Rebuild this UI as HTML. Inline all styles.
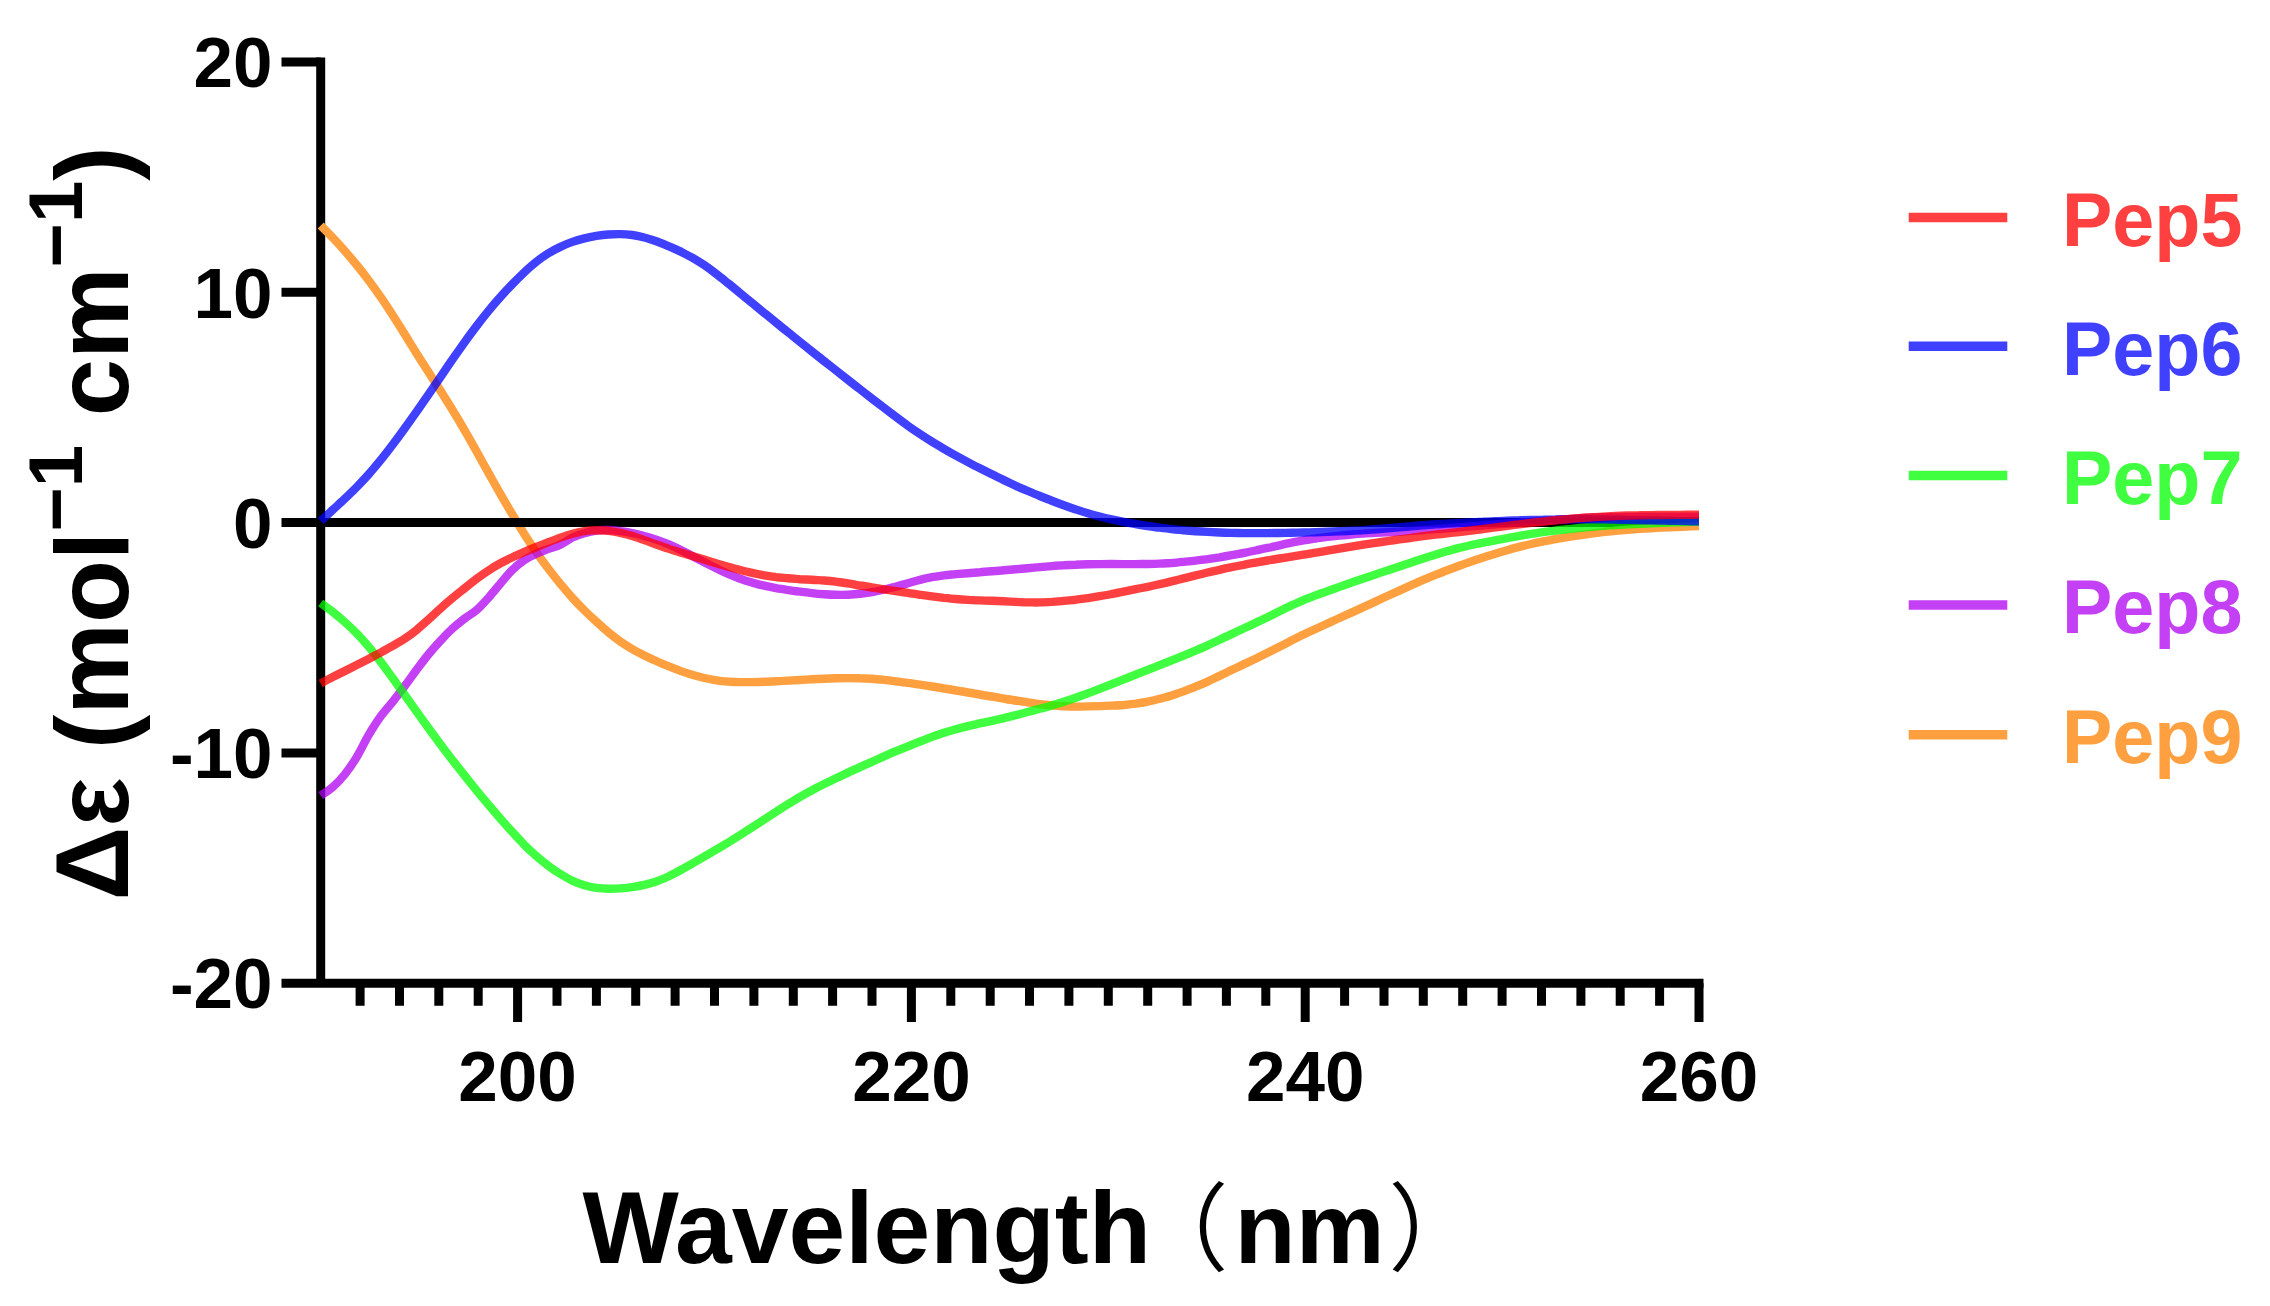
<!DOCTYPE html>
<html lang="en"><head><meta charset="utf-8"><title>CD spectra</title>
<style>
html,body{margin:0;padding:0;background:#fff;}
body{width:2270px;height:1306px;overflow:hidden;}
svg{display:block;}
text{font-family:"Liberation Sans","Noto Sans CJK SC",sans-serif;font-weight:bold;}
.tk{font-size:71px;fill:#000;}
.lg{font-size:75.5px;}
.ax{font-size:103px;fill:#000;}
.cjk{font-family:"Noto Sans CJK SC","Liberation Sans",sans-serif;font-weight:350;}
</style></head><body>
<svg width="2270" height="1306" viewBox="0 0 2270 1306">
<rect width="2270" height="1306" fill="#fff"/>
<g stroke="#000" stroke-width="9" fill="none" stroke-linecap="butt">
<path d="M320.7 57.5 V983.2"/>
<path d="M281.5 983.2 H1703.5"/>
<path d="M281.5 62 H320.7"/>
<path d="M281.5 292.3 H320.7"/>
<path d="M281.5 752.9 H320.7"/>
<path d="M360.1 983.2 V1005.7M399.5 983.2 V1005.7M438.8 983.2 V1005.7M478.2 983.2 V1005.7M517.6 983.2 V1022M557 983.2 V1005.7M596.4 983.2 V1005.7M635.7 983.2 V1005.7M675.1 983.2 V1005.7M714.5 983.2 V1005.7M753.9 983.2 V1005.7M793.3 983.2 V1005.7M832.6 983.2 V1005.7M872 983.2 V1005.7M911.4 983.2 V1022M950.8 983.2 V1005.7M990.2 983.2 V1005.7M1029.5 983.2 V1005.7M1068.9 983.2 V1005.7M1108.3 983.2 V1005.7M1147.7 983.2 V1005.7M1187.1 983.2 V1005.7M1226.4 983.2 V1005.7M1265.8 983.2 V1005.7M1305.2 983.2 V1022M1344.6 983.2 V1005.7M1384 983.2 V1005.7M1423.3 983.2 V1005.7M1462.7 983.2 V1005.7M1502.1 983.2 V1005.7M1541.5 983.2 V1005.7M1580.9 983.2 V1005.7M1620.2 983.2 V1005.7M1659.6 983.2 V1005.7M1699 983.2 V1022"/>
</g>
<path fill="none" stroke-width="8.4" stroke="#ffa040" d="M320.7 225.5C322.7 227.5 328.7 233.5 332.7 237.7C336.7 241.9 340.7 246.3 344.7 250.8C348.7 255.4 352.7 260.1 356.7 265C360.7 269.9 364.6 274.9 368.6 280.2C372.6 285.5 376.6 291.1 380.6 296.9C384.6 302.7 388.6 308.8 392.6 315C396.6 321.2 400.6 327.7 404.6 334.1C408.6 340.5 412.6 347.1 416.6 353.4C420.6 359.8 424.6 366.1 428.6 372.3C432.6 378.6 436.6 384.7 440.6 390.9C444.5 397.2 448.5 403.5 452.5 410C456.5 416.5 460.5 423.2 464.5 430.1C468.5 437 472.5 444.1 476.5 451.3C480.5 458.4 484.5 465.7 488.5 472.9C492.5 480 496.5 487.2 500.5 494.1C504.5 501.1 508.5 508 512.5 514.7C516.5 521.3 520.5 527.9 524.4 534.2C528.4 540.5 532.4 546.6 536.4 552.4C540.4 558.1 544.4 563.6 548.4 568.8C552.4 574.1 556.4 579.1 560.4 583.9C564.4 588.8 568.4 593.4 572.4 597.8C576.4 602.2 580.4 606.4 584.4 610.4C588.4 614.4 592.4 618.1 596.4 621.7C600.4 625.4 604.4 629 608.3 632.3C612.3 635.6 616.3 638.7 620.3 641.5C624.3 644.3 628.3 646.8 632.3 649.1C636.3 651.4 640.3 653.4 644.3 655.4C648.3 657.4 652.3 659.2 656.3 661C660.3 662.8 664.3 664.6 668.3 666.2C672.3 667.8 676.3 669.4 680.3 670.9C684.3 672.3 688.2 673.6 692.2 674.8C696.2 676 700.2 677.1 704.2 678C708.2 678.9 712.2 679.7 716.2 680.3C720.2 680.9 724.2 681.3 728.2 681.6C732.2 682 736.2 682.1 740.2 682.1C744.2 682.2 748.2 682.1 752.2 682.1C756.2 682 760.2 681.9 764.2 681.7C768.1 681.6 772.1 681.4 776.1 681.2C780.1 681.1 784.1 680.8 788.1 680.6C792.1 680.4 796.1 680.2 800.1 680C804.1 679.8 808.1 679.5 812.1 679.3C816.1 679.1 820.1 678.9 824.1 678.7C828.1 678.6 832.1 678.4 836.1 678.3C840.1 678.2 844.1 678.1 848 678.1C852 678.1 856 678.1 860 678.3C864 678.4 868 678.6 872 678.8C876 679.1 880 679.5 884 679.9C888 680.3 892 680.8 896 681.3C900 681.8 904 682.3 908 682.9C912 683.4 916 684 920 684.6C924 685.2 928 685.9 931.9 686.5C935.9 687.1 939.9 687.8 943.9 688.5C947.9 689.1 951.9 689.8 955.9 690.5C959.9 691.1 963.9 691.8 967.9 692.5C971.9 693.2 975.9 693.8 979.9 694.5C983.9 695.2 987.9 695.9 991.9 696.5C995.9 697.2 999.9 697.9 1003.9 698.6C1007.9 699.2 1011.8 699.9 1015.8 700.5"/>
<path d="M281.5 522.6 H1698.5" stroke="#000" stroke-width="9" fill="none"/>
<path fill="none" stroke-width="8.4" stroke="#ffa040" d="M1003.9 698.6C1007.9 699.2 1011.8 699.9 1015.8 700.5C1019.8 701.2 1023.8 701.8 1027.8 702.4C1031.8 703 1035.8 703.6 1039.8 704.1C1043.8 704.5 1047.8 705 1051.8 705.4C1055.8 705.8 1059.8 706.1 1063.8 706.3C1067.8 706.5 1071.8 706.6 1075.8 706.6C1079.8 706.6 1083.8 706.5 1087.8 706.4C1091.7 706.3 1095.7 706.2 1099.7 706.1C1103.7 705.9 1107.7 705.8 1111.7 705.6C1115.7 705.5 1119.7 705.3 1123.7 705C1127.7 704.6 1131.7 704.2 1135.7 703.7C1139.7 703.1 1143.7 702.4 1147.7 701.6C1151.7 700.8 1155.7 699.9 1159.7 698.8C1163.7 697.8 1167.7 696.6 1171.7 695.4C1175.6 694.1 1179.6 692.8 1183.6 691.4C1187.6 689.9 1191.6 688.4 1195.6 686.7C1199.6 685.1 1203.6 683.4 1207.6 681.6C1211.6 679.8 1215.6 677.8 1219.6 675.9C1223.6 674 1227.6 672.1 1231.6 670.1C1235.6 668.2 1239.6 666.3 1243.6 664.4C1247.6 662.5 1251.6 660.6 1255.5 658.7C1259.5 656.7 1263.5 654.8 1267.5 652.8C1271.5 650.8 1275.5 648.7 1279.5 646.7C1283.5 644.7 1287.5 642.6 1291.5 640.6C1295.5 638.5 1299.5 636.6 1303.5 634.6C1307.5 632.7 1311.5 630.8 1315.5 629C1319.5 627.1 1323.5 625.3 1327.5 623.5C1331.5 621.7 1335.4 619.8 1339.4 618C1343.4 616.2 1347.4 614.4 1351.4 612.6C1355.4 610.7 1359.4 608.9 1363.4 607.1C1367.4 605.2 1371.4 603.4 1375.4 601.6C1379.4 599.7 1383.4 597.9 1387.4 596C1391.4 594.2 1395.4 592.4 1399.4 590.6C1403.4 588.8 1407.4 587 1411.4 585.2C1415.3 583.4 1419.3 581.6 1423.3 579.9C1427.3 578.2 1431.3 576.5 1435.3 574.9C1439.3 573.3 1443.3 571.7 1447.3 570.2C1451.3 568.7 1455.3 567.2 1459.3 565.7C1463.3 564.3 1467.3 562.9 1471.3 561.5C1475.3 560.1 1479.3 558.8 1483.3 557.5C1487.3 556.2 1491.3 554.9 1495.3 553.7C1499.2 552.5 1503.2 551.3 1507.2 550.2C1511.2 549 1515.2 547.9 1519.2 546.9C1523.2 545.9 1527.2 544.9 1531.2 544C1535.2 543.1 1539.2 542.2 1543.2 541.4C1547.2 540.7 1551.2 539.9 1555.2 539.2C1559.2 538.5 1563.2 537.9 1567.2 537.2C1571.2 536.6 1575.2 535.9 1579.1 535.3C1583.1 534.7 1587.1 534.1 1591.1 533.6C1595.1 533 1599.1 532.5 1603.1 532.1C1607.1 531.6 1611.1 531.2 1615.1 530.8C1619.1 530.5 1623.1 530.1 1627.1 529.8C1631.1 529.5 1635.1 529.2 1639.1 528.9C1643.1 528.7 1647.1 528.4 1651.1 528.2C1655.1 527.9 1659 527.7 1663 527.5C1667 527.3 1671 527.1 1675 527C1679 526.8 1683 526.6 1687 526.5C1691 526.3 1697 526.1 1699 526"/>
<g fill="none" stroke-width="8.4" stroke-linecap="butt" stroke-linejoin="round" stroke-opacity="0.75">
<path stroke="#b000f0" d="M320.7 795.5C322.7 794.1 328.7 790.6 332.7 787.1C336.7 783.6 340.7 779.5 344.7 774.5C348.7 769.5 352.7 763.6 356.7 757.1C360.7 750.5 364.6 741.9 368.6 735.1C372.6 728.3 376.6 722 380.6 716.5C384.6 710.9 388.6 706.9 392.6 701.8C396.6 696.8 400.6 691.6 404.6 686.2C408.6 680.9 412.6 675.2 416.6 669.8C420.6 664.5 424.6 659 428.6 654.2C432.6 649.3 436.6 644.9 440.6 640.6C444.5 636.3 448.5 632.2 452.5 628.5C456.5 624.9 460.5 621.7 464.5 618.6C468.5 615.6 472.5 613.7 476.5 610.2C480.5 606.8 484.5 602.2 488.5 597.7C492.5 593.2 496.5 588.1 500.5 583.5C504.5 578.8 508.5 573.7 512.5 569.8C516.5 565.9 520.5 562.7 524.4 560C528.4 557.3 532.4 555.4 536.4 553.6C540.4 551.7 544.4 550.4 548.4 548.9C552.4 547.4 556.4 546.5 560.4 544.6C564.4 542.7 568.4 539.5 572.4 537.5C576.4 535.6 580.4 534.3 584.4 533.2C588.4 532 592.4 531 596.4 530.5C600.4 529.9 604.4 529.9 608.3 530C612.3 530.1 616.3 530.6 620.3 531.2C624.3 531.7 628.3 532.4 632.3 533.2C636.3 534 640.3 534.9 644.3 536C648.3 537 652.3 538.2 656.3 539.6C660.3 541 664.3 542.5 668.3 544.2C672.3 545.9 676.3 547.8 680.3 549.8C684.3 551.8 688.2 553.9 692.2 555.9C696.2 558 700.2 560.1 704.2 562.2C708.2 564.2 712.2 566.3 716.2 568.3C720.2 570.3 724.2 572.2 728.2 574C732.2 575.7 736.2 577.3 740.2 578.7C744.2 580.2 748.2 581.4 752.2 582.6C756.2 583.7 760.2 584.8 764.2 585.7C768.1 586.6 772.1 587.4 776.1 588.2C780.1 588.9 784.1 589.5 788.1 590.1C792.1 590.7 796.1 591.2 800.1 591.7C804.1 592.2 808.1 592.7 812.1 593.1C816.1 593.6 820.1 594 824.1 594.3C828.1 594.6 832.1 594.8 836.1 594.8C840.1 594.9 844.1 594.9 848 594.7C852 594.5 856 594.2 860 593.8C864 593.4 868 592.8 872 592.1C876 591.4 880 590.5 884 589.5C888 588.6 892 587.5 896 586.5C900 585.4 904 584.3 908 583.2C912 582.1 916 580.9 920 579.9C924 578.9 928 577.9 931.9 577.2C935.9 576.4 939.9 575.8 943.9 575.3C947.9 574.8 951.9 574.5 955.9 574.1C959.9 573.8 963.9 573.5 967.9 573.2C971.9 572.9 975.9 572.6 979.9 572.3C983.9 571.9 987.9 571.6 991.9 571.3C995.9 571 999.9 570.7 1003.9 570.3C1007.9 570 1011.8 569.6 1015.8 569.3C1019.8 568.9 1023.8 568.6 1027.8 568.2C1031.8 567.8 1035.8 567.5 1039.8 567.1C1043.8 566.8 1047.8 566.4 1051.8 566.1C1055.8 565.8 1059.8 565.5 1063.8 565.3C1067.8 565 1071.8 564.8 1075.8 564.7C1079.8 564.5 1083.8 564.4 1087.8 564.3C1091.7 564.2 1095.7 564.1 1099.7 564.1C1103.7 564 1107.7 564 1111.7 564C1115.7 564.1 1119.7 564.1 1123.7 564.1C1127.7 564.1 1131.7 564.1 1135.7 564.1C1139.7 564.1 1143.7 564 1147.7 564C1151.7 563.9 1155.7 563.8 1159.7 563.6C1163.7 563.5 1167.7 563.2 1171.7 563C1175.6 562.7 1179.6 562.3 1183.6 561.9C1187.6 561.6 1191.6 561.1 1195.6 560.6C1199.6 560.2 1203.6 559.6 1207.6 559.1C1211.6 558.5 1215.6 557.9 1219.6 557.3C1223.6 556.6 1227.6 555.9 1231.6 555.2C1235.6 554.5 1239.6 553.7 1243.6 553C1247.6 552.2 1251.6 551.4 1255.5 550.5C1259.5 549.7 1263.5 548.8 1267.5 547.9C1271.5 547.1 1275.5 546.2 1279.5 545.3C1283.5 544.4 1287.5 543.5 1291.5 542.7C1295.5 541.8 1299.5 541.1 1303.5 540.4C1307.5 539.7 1311.5 539 1315.5 538.5C1319.5 537.9 1323.5 537.4 1327.5 536.9C1331.5 536.4 1335.4 536 1339.4 535.6C1343.4 535.2 1347.4 534.8 1351.4 534.5C1355.4 534.1 1359.4 533.8 1363.4 533.6C1367.4 533.3 1371.4 533.1 1375.4 532.9C1379.4 532.7 1383.4 532.5 1387.4 532.3C1391.4 532.1 1395.4 531.9 1399.4 531.7C1403.4 531.4 1407.4 531.2 1411.4 530.9C1415.3 530.6 1419.3 530.3 1423.3 530C1427.3 529.8 1431.3 529.4 1435.3 529.1C1439.3 528.8 1443.3 528.5 1447.3 528.2C1451.3 527.9 1455.3 527.6 1459.3 527.3C1463.3 527 1467.3 526.6 1471.3 526.3C1475.3 526 1479.3 525.7 1483.3 525.3C1487.3 525 1491.3 524.7 1495.3 524.4C1499.2 524.1 1503.2 523.8 1507.2 523.5C1511.2 523.2 1515.2 522.9 1519.2 522.7C1523.2 522.4 1527.2 522.1 1531.2 521.8C1535.2 521.6 1539.2 521.3 1543.2 521C1547.2 520.7 1551.2 520.4 1555.2 520.1C1559.2 519.8 1563.2 519.5 1567.2 519.2C1571.2 519 1575.2 518.7 1579.1 518.4C1583.1 518.2 1587.1 517.9 1591.1 517.7C1595.1 517.5 1599.1 517.4 1603.1 517.3C1607.1 517.2 1611.1 517.1 1615.1 517.1C1619.1 517 1623.1 517 1627.1 516.9C1631.1 516.9 1635.1 516.9 1639.1 516.8C1643.1 516.8 1647.1 516.8 1651.1 516.8C1655.1 516.8 1659 516.7 1663 516.7C1667 516.7 1671 516.7 1675 516.7C1679 516.7 1683 516.7 1687 516.7C1691 516.7 1697 516.7 1699 516.7"/>
<path stroke="#00ff00" d="M320.7 603C322.7 604.5 328.7 608.8 332.7 611.9C336.7 615.1 340.7 618.4 344.7 622C348.7 625.6 352.7 629.3 356.7 633.4C360.7 637.5 364.6 641.9 368.6 646.6C372.6 651.3 376.6 656.4 380.6 661.6C384.6 666.9 388.6 672.5 392.6 678C396.6 683.5 400.6 689.2 404.6 694.8C408.6 700.4 412.6 706 416.6 711.6C420.6 717.2 424.6 722.8 428.6 728.3C432.6 733.8 436.6 739.2 440.6 744.5C444.5 749.8 448.5 755 452.5 760.2C456.5 765.3 460.5 770.4 464.5 775.4C468.5 780.4 472.5 785.4 476.5 790.3C480.5 795.2 484.5 800 488.5 804.7C492.5 809.4 496.5 814.1 500.5 818.7C504.5 823.3 508.5 827.8 512.5 832.2C516.5 836.6 520.5 840.9 524.4 844.9C528.4 848.8 532.4 852.6 536.4 856.1C540.4 859.6 544.4 862.8 548.4 865.8C552.4 868.8 556.4 871.6 560.4 874C564.4 876.5 568.4 878.8 572.4 880.7C576.4 882.6 580.4 884.1 584.4 885.3C588.4 886.5 592.4 887.3 596.4 887.9C600.4 888.4 604.4 888.7 608.3 888.7C612.3 888.8 616.3 888.7 620.3 888.4C624.3 888.1 628.3 887.7 632.3 887.1C636.3 886.5 640.3 885.8 644.3 884.9C648.3 883.9 652.3 882.9 656.3 881.5C660.3 880.1 664.3 878.3 668.3 876.5C672.3 874.6 676.3 872.4 680.3 870.2C684.3 868.1 688.2 865.8 692.2 863.6C696.2 861.3 700.2 859 704.2 856.7C708.2 854.4 712.2 852 716.2 849.7C720.2 847.3 724.2 844.9 728.2 842.5C732.2 840 736.2 837.5 740.2 835C744.2 832.5 748.2 829.9 752.2 827.3C756.2 824.7 760.2 822.1 764.2 819.5C768.1 816.9 772.1 814.3 776.1 811.7C780.1 809.1 784.1 806.5 788.1 804.1C792.1 801.6 796.1 799.1 800.1 796.8C804.1 794.5 808.1 792.3 812.1 790.2C816.1 788.1 820.1 786.1 824.1 784.1C828.1 782.1 832.1 780.1 836.1 778.2C840.1 776.3 844.1 774.4 848 772.6C852 770.7 856 769 860 767.1C864 765.3 868 763.6 872 761.8C876 760 880 758.1 884 756.4C888 754.6 892 752.9 896 751.2C900 749.5 904 747.9 908 746.3C912 744.7 916 743.1 920 741.5C924 740 928 738.4 931.9 736.9C935.9 735.5 939.9 734.1 943.9 732.8C947.9 731.5 951.9 730.3 955.9 729.2C959.9 728.1 963.9 727.1 967.9 726.1C971.9 725.1 975.9 724.3 979.9 723.4C983.9 722.5 987.9 721.7 991.9 720.8C995.9 719.9 999.9 719 1003.9 718.1C1007.9 717.1 1011.8 716.1 1015.8 715.1C1019.8 714.1 1023.8 713.1 1027.8 712C1031.8 710.9 1035.8 709.9 1039.8 708.8C1043.8 707.7 1047.8 706.6 1051.8 705.4C1055.8 704.2 1059.8 703 1063.8 701.7C1067.8 700.4 1071.8 699.1 1075.8 697.7C1079.8 696.3 1083.8 694.8 1087.8 693.4C1091.7 691.9 1095.7 690.4 1099.7 688.9C1103.7 687.4 1107.7 685.8 1111.7 684.2C1115.7 682.6 1119.7 681 1123.7 679.4C1127.7 677.8 1131.7 676.2 1135.7 674.6C1139.7 673.1 1143.7 671.5 1147.7 669.9C1151.7 668.3 1155.7 666.8 1159.7 665.2C1163.7 663.6 1167.7 662 1171.7 660.4C1175.6 658.8 1179.6 657.2 1183.6 655.6C1187.6 654 1191.6 652.3 1195.6 650.6C1199.6 648.9 1203.6 647.1 1207.6 645.3C1211.6 643.5 1215.6 641.6 1219.6 639.7C1223.6 637.9 1227.6 636 1231.6 634.1C1235.6 632.2 1239.6 630.4 1243.6 628.5C1247.6 626.6 1251.6 624.8 1255.5 622.9C1259.5 621 1263.5 619.1 1267.5 617.2C1271.5 615.2 1275.5 613.2 1279.5 611.2C1283.5 609.3 1287.5 607.3 1291.5 605.4C1295.5 603.6 1299.5 601.8 1303.5 600.1C1307.5 598.4 1311.5 596.9 1315.5 595.4C1319.5 593.9 1323.5 592.6 1327.5 591.1C1331.5 589.7 1335.4 588.3 1339.4 586.9C1343.4 585.5 1347.4 584 1351.4 582.6C1355.4 581.2 1359.4 579.8 1363.4 578.5C1367.4 577.1 1371.4 575.7 1375.4 574.4C1379.4 573.1 1383.4 571.8 1387.4 570.4C1391.4 569.1 1395.4 567.8 1399.4 566.5C1403.4 565.1 1407.4 563.8 1411.4 562.5C1415.3 561.1 1419.3 559.8 1423.3 558.5C1427.3 557.2 1431.3 555.9 1435.3 554.7C1439.3 553.5 1443.3 552.3 1447.3 551.1C1451.3 550 1455.3 548.9 1459.3 547.9C1463.3 546.9 1467.3 545.9 1471.3 545C1475.3 544.2 1479.3 543.4 1483.3 542.6C1487.3 541.9 1491.3 541.2 1495.3 540.4C1499.2 539.7 1503.2 538.9 1507.2 538.2C1511.2 537.4 1515.2 536.6 1519.2 535.9C1523.2 535.2 1527.2 534.5 1531.2 533.8C1535.2 533.2 1539.2 532.6 1543.2 532.1C1547.2 531.5 1551.2 531.1 1555.2 530.6C1559.2 530.1 1563.2 529.7 1567.2 529.3C1571.2 528.8 1575.2 528.4 1579.1 528C1583.1 527.6 1587.1 527.2 1591.1 526.8C1595.1 526.5 1599.1 526.1 1603.1 525.8C1607.1 525.5 1611.1 525.3 1615.1 525C1619.1 524.8 1623.1 524.6 1627.1 524.3C1631.1 524.1 1635.1 523.9 1639.1 523.8C1643.1 523.6 1647.1 523.4 1651.1 523.3C1655.1 523.1 1659 523 1663 522.8C1667 522.7 1671 522.6 1675 522.4C1679 522.3 1683 522.2 1687 522.1C1691 521.9 1697 521.8 1699 521.7"/>
<path stroke="#0000ff" d="M320.7 521C322.7 519.2 328.7 513.7 332.7 509.9C336.7 506.2 340.7 502.6 344.7 498.8C348.7 494.9 352.7 491.2 356.7 487.1C360.7 483 364.6 478.9 368.6 474.4C372.6 469.9 376.6 465.1 380.6 460.2C384.6 455.3 388.6 450.1 392.6 444.8C396.6 439.5 400.6 434.1 404.6 428.5C408.6 423 412.6 417.4 416.6 411.7C420.6 406 424.6 400.1 428.6 394.3C432.6 388.5 436.6 382.6 440.6 376.8C444.5 371 448.5 365.1 452.5 359.3C456.5 353.6 460.5 347.9 464.5 342.3C468.5 336.8 472.5 331.3 476.5 326.1C480.5 320.9 484.5 315.8 488.5 310.9C492.5 306 496.5 301.3 500.5 296.9C504.5 292.4 508.5 288.1 512.5 284C516.5 279.9 520.5 275.9 524.4 272.2C528.4 268.5 532.4 264.9 536.4 261.8C540.4 258.6 544.4 255.8 548.4 253.3C552.4 250.8 556.4 248.6 560.4 246.8C564.4 244.9 568.4 243.3 572.4 241.9C576.4 240.5 580.4 239.4 584.4 238.4C588.4 237.4 592.4 236.6 596.4 235.9C600.4 235.3 604.4 234.8 608.3 234.5C612.3 234.2 616.3 234 620.3 234.1C624.3 234.2 628.3 234.5 632.3 235C636.3 235.6 640.3 236.4 644.3 237.5C648.3 238.5 652.3 239.9 656.3 241.3C660.3 242.8 664.3 244.4 668.3 246.1C672.3 247.8 676.3 249.5 680.3 251.4C684.3 253.4 688.2 255.3 692.2 257.6C696.2 259.9 700.2 262.4 704.2 265.1C708.2 267.8 712.2 270.8 716.2 273.9C720.2 276.9 724.2 280.2 728.2 283.4C732.2 286.6 736.2 289.9 740.2 293.2C744.2 296.5 748.2 299.8 752.2 303C756.2 306.3 760.2 309.6 764.2 312.9C768.1 316.1 772.1 319.4 776.1 322.6C780.1 325.9 784.1 329.1 788.1 332.3C792.1 335.6 796.1 338.8 800.1 342C804.1 345.2 808.1 348.4 812.1 351.6C816.1 354.7 820.1 357.9 824.1 361.1C828.1 364.2 832.1 367.4 836.1 370.5C840.1 373.7 844.1 376.8 848 379.9C852 383.1 856 386.2 860 389.3C864 392.4 868 395.5 872 398.6C876 401.6 880 404.7 884 407.8C888 410.8 892 413.9 896 416.9C900 419.9 904 422.9 908 425.8C912 428.6 916 431.4 920 434C924 436.7 928 439.2 931.9 441.6C935.9 444.1 939.9 446.4 943.9 448.8C947.9 451.1 951.9 453.4 955.9 455.6C959.9 457.8 963.9 460 967.9 462.1C971.9 464.2 975.9 466.3 979.9 468.3C983.9 470.3 987.9 472.3 991.9 474.3C995.9 476.3 999.9 478.2 1003.9 480.1C1007.9 482 1011.8 483.9 1015.8 485.8C1019.8 487.6 1023.8 489.3 1027.8 491C1031.8 492.7 1035.8 494.4 1039.8 496C1043.8 497.6 1047.8 499.2 1051.8 500.7C1055.8 502.3 1059.8 503.8 1063.8 505.2C1067.8 506.7 1071.8 508.1 1075.8 509.4C1079.8 510.8 1083.8 512.1 1087.8 513.2C1091.7 514.4 1095.7 515.5 1099.7 516.5C1103.7 517.6 1107.7 518.5 1111.7 519.3C1115.7 520.2 1119.7 521 1123.7 521.8C1127.7 522.6 1131.7 523.3 1135.7 524C1139.7 524.7 1143.7 525.4 1147.7 526C1151.7 526.6 1155.7 527.2 1159.7 527.7C1163.7 528.2 1167.7 528.7 1171.7 529.1C1175.6 529.6 1179.6 529.9 1183.6 530.3C1187.6 530.6 1191.6 530.9 1195.6 531.2C1199.6 531.4 1203.6 531.7 1207.6 531.9C1211.6 532.1 1215.6 532.3 1219.6 532.5C1223.6 532.6 1227.6 532.8 1231.6 532.9C1235.6 533 1239.6 533 1243.6 533.1C1247.6 533.1 1251.6 533.1 1255.5 533.1C1259.5 533.1 1263.5 533.1 1267.5 533.1C1271.5 533.1 1275.5 533 1279.5 533C1283.5 532.9 1287.5 532.9 1291.5 532.8C1295.5 532.7 1299.5 532.6 1303.5 532.5C1307.5 532.4 1311.5 532.3 1315.5 532.2C1319.5 532.1 1323.5 531.9 1327.5 531.8C1331.5 531.6 1335.4 531.5 1339.4 531.3C1343.4 531.2 1347.4 531 1351.4 530.8C1355.4 530.6 1359.4 530.4 1363.4 530.1C1367.4 529.9 1371.4 529.6 1375.4 529.3C1379.4 529 1383.4 528.6 1387.4 528.3C1391.4 528 1395.4 527.6 1399.4 527.3C1403.4 526.9 1407.4 526.5 1411.4 526.2C1415.3 525.9 1419.3 525.5 1423.3 525.2C1427.3 524.9 1431.3 524.6 1435.3 524.3C1439.3 524.1 1443.3 523.8 1447.3 523.6C1451.3 523.4 1455.3 523.2 1459.3 523C1463.3 522.8 1467.3 522.6 1471.3 522.4C1475.3 522.2 1479.3 522 1483.3 521.8C1487.3 521.5 1491.3 521.3 1495.3 521.1C1499.2 521 1503.2 520.8 1507.2 520.6C1511.2 520.5 1515.2 520.4 1519.2 520.3C1523.2 520.1 1527.2 520 1531.2 519.9C1535.2 519.8 1539.2 519.7 1543.2 519.7C1547.2 519.6 1551.2 519.5 1555.2 519.5C1559.2 519.4 1563.2 519.3 1567.2 519.3C1571.2 519.3 1575.2 519.3 1579.1 519.2C1583.1 519.2 1587.1 519.2 1591.1 519.3C1595.1 519.3 1599.1 519.3 1603.1 519.4C1607.1 519.4 1611.1 519.5 1615.1 519.6C1619.1 519.7 1623.1 519.8 1627.1 519.9C1631.1 519.9 1635.1 520 1639.1 520.1C1643.1 520.2 1647.1 520.3 1651.1 520.4C1655.1 520.5 1659 520.5 1663 520.6C1667 520.7 1671 520.8 1675 520.9C1679 520.9 1683 521 1687 521.1C1691 521.2 1697 521.3 1699 521.3"/>
<path stroke="#ff0000" d="M320.7 683.5C322.7 682.4 328.7 679.1 332.7 677.1C336.7 675 340.7 673 344.7 671.1C348.7 669.1 352.7 667.1 356.7 665.1C360.7 663.1 364.6 661 368.6 659C372.6 656.9 376.6 654.7 380.6 652.6C384.6 650.4 388.6 648.2 392.6 645.9C396.6 643.6 400.6 641.4 404.6 638.7C408.6 636.1 412.6 633.2 416.6 629.9C420.6 626.7 424.6 623 428.6 619.4C432.6 615.8 436.6 612 440.6 608.4C444.5 604.9 448.5 601.4 452.5 598.1C456.5 594.7 460.5 591.6 464.5 588.4C468.5 585.1 472.5 581.8 476.5 578.8C480.5 575.8 484.5 573 488.5 570.4C492.5 567.8 496.5 565.5 500.5 563.3C504.5 561.1 508.5 559.2 512.5 557.3C516.5 555.4 520.5 553.7 524.4 551.9C528.4 550.2 532.4 548.6 536.4 547C540.4 545.4 544.4 543.8 548.4 542.2C552.4 540.6 556.4 539 560.4 537.6C564.4 536.2 568.4 534.8 572.4 533.7C576.4 532.7 580.4 531.7 584.4 531.1C588.4 530.5 592.4 530.2 596.4 530.1C600.4 530.1 604.4 530.4 608.3 530.8C612.3 531.3 616.3 532 620.3 532.9C624.3 533.8 628.3 534.9 632.3 536.1C636.3 537.3 640.3 538.7 644.3 540.1C648.3 541.5 652.3 543 656.3 544.5C660.3 545.9 664.3 547.3 668.3 548.6C672.3 550 676.3 551.2 680.3 552.4C684.3 553.7 688.2 554.8 692.2 556C696.2 557.2 700.2 558.4 704.2 559.6C708.2 560.8 712.2 562.1 716.2 563.3C720.2 564.4 724.2 565.6 728.2 566.8C732.2 567.9 736.2 569 740.2 570C744.2 571 748.2 572 752.2 572.9C756.2 573.8 760.2 574.6 764.2 575.3C768.1 576 772.1 576.5 776.1 577.1C780.1 577.6 784.1 577.9 788.1 578.3C792.1 578.7 796.1 578.9 800.1 579.2C804.1 579.4 808.1 579.6 812.1 579.8C816.1 580.1 820.1 580.2 824.1 580.5C828.1 580.8 832.1 581.2 836.1 581.7C840.1 582.1 844.1 582.8 848 583.4C852 584 856 584.8 860 585.5C864 586.1 868 586.8 872 587.5C876 588.1 880 588.7 884 589.3C888 589.9 892 590.5 896 591.1C900 591.7 904 592.3 908 592.9C912 593.6 916 594.2 920 594.8C924 595.3 928 595.9 931.9 596.4C935.9 596.9 939.9 597.4 943.9 597.9C947.9 598.3 951.9 598.7 955.9 599C959.9 599.4 963.9 599.7 967.9 599.9C971.9 600.1 975.9 600.3 979.9 600.4C983.9 600.6 987.9 600.7 991.9 600.8C995.9 601 999.9 601.1 1003.9 601.3C1007.9 601.5 1011.8 601.7 1015.8 601.9C1019.8 602.1 1023.8 602.3 1027.8 602.4C1031.8 602.4 1035.8 602.5 1039.8 602.4C1043.8 602.3 1047.8 602.1 1051.8 601.9C1055.8 601.6 1059.8 601.3 1063.8 600.9C1067.8 600.6 1071.8 600.1 1075.8 599.7C1079.8 599.2 1083.8 598.6 1087.8 598.1C1091.7 597.5 1095.7 596.9 1099.7 596.2C1103.7 595.5 1107.7 594.8 1111.7 594C1115.7 593.3 1119.7 592.5 1123.7 591.7C1127.7 590.9 1131.7 590.1 1135.7 589.2C1139.7 588.4 1143.7 587.6 1147.7 586.8C1151.7 585.9 1155.7 585.1 1159.7 584.2C1163.7 583.3 1167.7 582.4 1171.7 581.4C1175.6 580.5 1179.6 579.4 1183.6 578.4C1187.6 577.5 1191.6 576.4 1195.6 575.4C1199.6 574.5 1203.6 573.5 1207.6 572.5C1211.6 571.6 1215.6 570.6 1219.6 569.8C1223.6 568.9 1227.6 568 1231.6 567.2C1235.6 566.3 1239.6 565.5 1243.6 564.8C1247.6 564 1251.6 563.3 1255.5 562.6C1259.5 561.9 1263.5 561.2 1267.5 560.5C1271.5 559.9 1275.5 559.2 1279.5 558.5C1283.5 557.9 1287.5 557.2 1291.5 556.6C1295.5 555.9 1299.5 555.3 1303.5 554.6C1307.5 554 1311.5 553.3 1315.5 552.6C1319.5 552 1323.5 551.3 1327.5 550.6C1331.5 550 1335.4 549.3 1339.4 548.6C1343.4 548 1347.4 547.3 1351.4 546.7C1355.4 546 1359.4 545.4 1363.4 544.7C1367.4 544.1 1371.4 543.5 1375.4 542.9C1379.4 542.3 1383.4 541.7 1387.4 541.1C1391.4 540.5 1395.4 540 1399.4 539.4C1403.4 538.8 1407.4 538.3 1411.4 537.8C1415.3 537.2 1419.3 536.7 1423.3 536.2C1427.3 535.7 1431.3 535.2 1435.3 534.7C1439.3 534.2 1443.3 533.8 1447.3 533.3C1451.3 532.9 1455.3 532.4 1459.3 532C1463.3 531.5 1467.3 531 1471.3 530.5C1475.3 530 1479.3 529.5 1483.3 529C1487.3 528.4 1491.3 527.9 1495.3 527.4C1499.2 526.8 1503.2 526.3 1507.2 525.8C1511.2 525.3 1515.2 524.8 1519.2 524.4C1523.2 523.9 1527.2 523.4 1531.2 522.9C1535.2 522.5 1539.2 522 1543.2 521.6C1547.2 521.1 1551.2 520.6 1555.2 520.2C1559.2 519.8 1563.2 519.4 1567.2 519.1C1571.2 518.7 1575.2 518.4 1579.1 518.1C1583.1 517.8 1587.1 517.5 1591.1 517.3C1595.1 517 1599.1 516.8 1603.1 516.6C1607.1 516.4 1611.1 516.2 1615.1 516C1619.1 515.8 1623.1 515.7 1627.1 515.5C1631.1 515.4 1635.1 515.3 1639.1 515.3C1643.1 515.2 1647.1 515.1 1651.1 515.1C1655.1 515.1 1659 515 1663 515C1667 515 1671 515 1675 514.9C1679 514.9 1683 514.8 1687 514.8C1691 514.8 1697 514.7 1699 514.7"/>
</g>
<text class="tk" x="272.5" y="87.2" text-anchor="end">20</text>
<text class="tk" x="272.5" y="317.5" text-anchor="end">10</text>
<text class="tk" x="272.5" y="547.8" text-anchor="end">0</text>
<text class="tk" x="272.5" y="778.1" text-anchor="end">-10</text>
<text class="tk" x="272.5" y="1008.4" text-anchor="end">-20</text>
<text class="tk" x="517.6" y="1100.5" text-anchor="middle">200</text>
<text class="tk" x="911.4" y="1100.5" text-anchor="middle">220</text>
<text class="tk" x="1305.2" y="1100.5" text-anchor="middle">240</text>
<text class="tk" x="1699" y="1100.5" text-anchor="middle">260</text>
<path d="M1908.7 217.4 H2007.3" stroke="#ff0000" stroke-opacity="0.75" stroke-width="9.5" fill="none"/>
<text class="lg" x="2062" y="245.7" fill="#ff0000" fill-opacity="0.75">Pep5</text>
<path d="M1908.7 346.2 H2007.3" stroke="#0000ff" stroke-opacity="0.75" stroke-width="9.5" fill="none"/>
<text class="lg" x="2062" y="374.5" fill="#0000ff" fill-opacity="0.75">Pep6</text>
<path d="M1908.7 475.6 H2007.3" stroke="#00ff00" stroke-opacity="0.75" stroke-width="9.5" fill="none"/>
<text class="lg" x="2062" y="503.9" fill="#00ff00" fill-opacity="0.75">Pep7</text>
<path d="M1908.7 605 H2007.3" stroke="#b000f0" stroke-opacity="0.75" stroke-width="9.5" fill="none"/>
<text class="lg" x="2062" y="633.3" fill="#b000f0" fill-opacity="0.75">Pep8</text>
<path d="M1908.7 734.7 H2007.3" stroke="#ffa040" stroke-opacity="1" stroke-width="9.5" fill="none"/>
<text class="lg" x="2062" y="763" fill="#ffa040" fill-opacity="1">Pep9</text>
<text class="ax" y="1263.3"><tspan x="582.5" style="font-size:102px">Wavelength</tspan><tspan class="cjk" x="1132.4" dy="-0.3" style="font-size:96px">（</tspan><tspan x="1234.6" dy="0.3" style="font-size:100px">nm</tspan><tspan class="cjk" x="1388.3" dy="-0.3" style="font-size:96px">）</tspan></text>
<g transform="translate(127.5 900.5) rotate(-90)">
<text class="ax" x="0" y="0">Δε (mol<tspan dy="-46" style="font-size:76px">−1</tspan><tspan dy="46"> cm</tspan><tspan dy="-46" style="font-size:76px">−1</tspan><tspan dy="46">)</tspan></text>
</g>
</svg>
</body></html>
